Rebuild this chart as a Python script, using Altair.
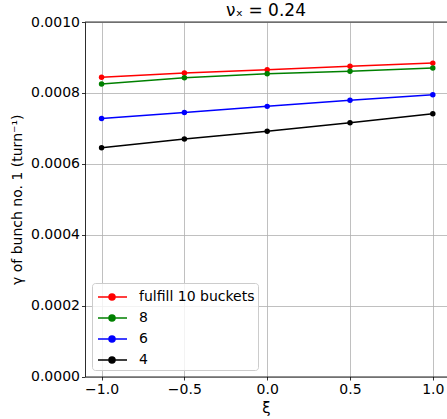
import altair as alt
import pandas as pd

xi = [-1.0, -0.5, 0.0, 0.5, 1.0]
series_names = ["fulfill 10 buckets", "8", "6", "4"]
series_colors = ["#ff0000", "#008000", "#0000ff", "#000000"]
gamma_10 = [0.000844, 0.000856, 0.000865, 0.000875, 0.000884]
gamma_8 = [0.000825, 0.000843, 0.000854, 0.000861, 0.000870]
gamma_6 = [0.000728, 0.000745, 0.000762, 0.000779, 0.000795]
gamma_4 = [0.000645, 0.000670, 0.000692, 0.000716, 0.000741]
x_ticks = [-1.0, -0.5, 0.0, 0.5, 1.0]
y_ticks = [0.0, 0.0002, 0.0004, 0.0006, 0.0008, 0.0010]

rows = []
for name, vals in zip(series_names, [gamma_10, gamma_8, gamma_6, gamma_4]):
    for x, v in zip(xi, vals):
        rows.append({"xi": x, "gamma": v, "series": name})
df = pd.DataFrame(rows)

W, H = 362, 354.5
FONT = "DejaVu Sans"

color = alt.Color(
    "series:N",
    scale=alt.Scale(domain=series_names, range=series_colors),
    sort=series_names,
    legend=alt.Legend(
        title=None,
        orient="bottom-left",
        offset=7,
        padding=3,
        fillColor="rgba(255,255,255,0.8)",
        strokeColor="#cccccc",
        cornerRadius=3,
        labelFontSize=14,
        labelFont=FONT,
        labelColor="black",
        symbolType="M-0.8,0H2.1M0.3,0A0.3,0.3,0,1,0,0.9,0A0.3,0.3,0,1,0,0.3,0Z",
        symbolSize=400,
        symbolStrokeWidth=1.5,
        rowPadding=3,
        labelOffset=22,
    ),
)

axis_common = dict(
    labelFont=FONT, titleFont=FONT, labelFontSize=14, labelColor="black",
    titleColor="black", domainColor="black", domainWidth=0.8,
    tickColor="black", tickWidth=0.8, tickSize=3.5, labelPadding=2,
    gridColor="#b0b0b0", gridWidth=0.8, grid=True, titleFontWeight="normal",
)

x_enc = alt.X(
    "xi:Q",
    scale=alt.Scale(domain=[-1.1, 1.0857], nice=False, zero=False),
    axis=alt.Axis(values=x_ticks, format=".1f", title="ξ",
                  titleFontSize=15, titlePadding=4, **axis_common),
)
y_enc = alt.Y(
    "gamma:Q",
    scale=alt.Scale(domain=[0, 0.001], nice=False),
    axis=alt.Axis(values=y_ticks, format=".4f", title="γ of bunch no. 1 (turn⁻¹)",
                  titleFontSize=14, titlePadding=6, **axis_common),
)

base = alt.Chart(df)
lines = base.mark_line(strokeWidth=1.5, clip=True).encode(
    x=x_enc, y=y_enc, color=color, detail="series:N"
)
points = base.mark_circle(size=30, opacity=1, clip=True).encode(
    x="xi:Q", y="gamma:Q", color=color
)
top_spine = alt.Chart(alt.Data(values=[{}])).mark_rule(
    color="black", strokeWidth=0.8
).encode(x=alt.value(0), x2=alt.value(W), y=alt.value(0))

chart = (
    alt.layer(lines, points, top_spine)
    .properties(
        width=W,
        height=H,
        title=alt.TitleParams(
            "νₓ = 0.24", fontSize=17, fontWeight="normal", font=FONT,
            color="black", offset=-5, anchor="middle",
        ),
        autosize=alt.AutoSizeParams(type="none"),
        padding={"left": 85, "top": 22, "right": 0, "bottom": 42},
    )
    .configure_view(stroke=None)
    .configure(background="white")
)

chart.save("out.html", embed_options={"renderer": "svg", "actions": False})
